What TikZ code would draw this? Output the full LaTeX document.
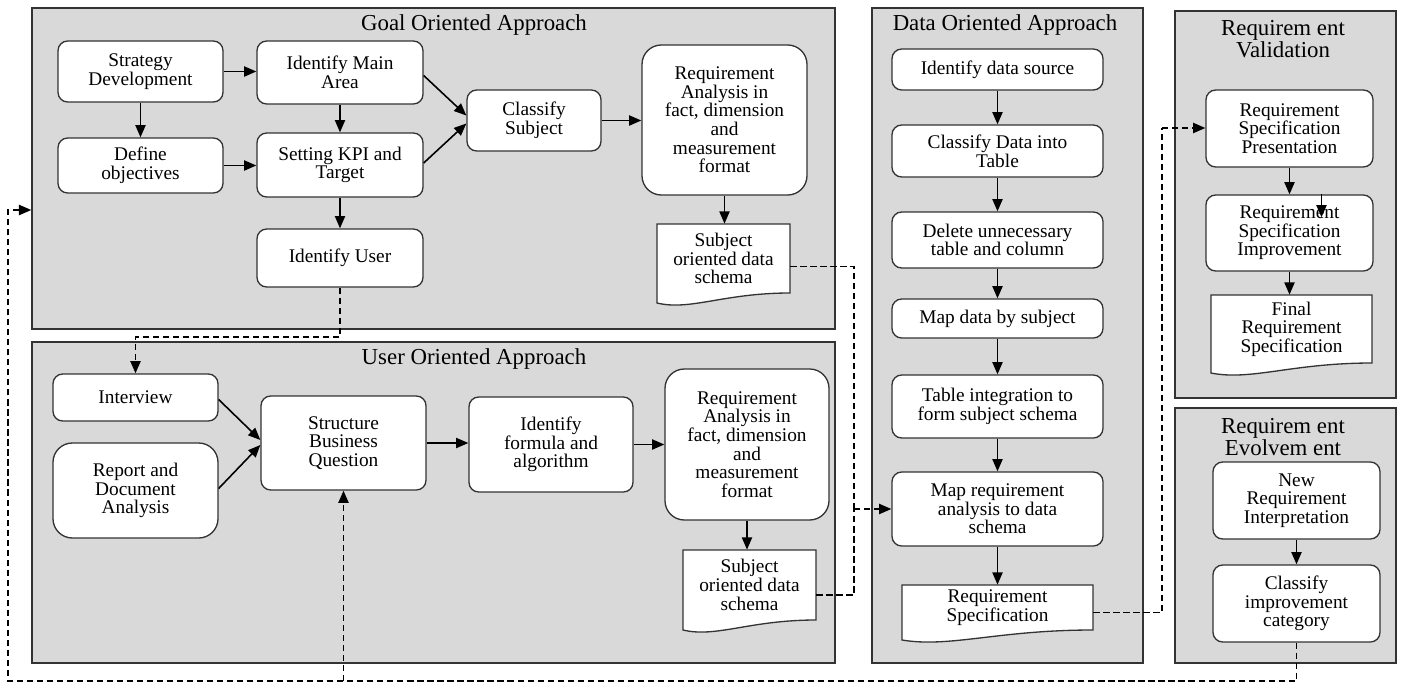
\documentclass[tikz,border=0pt]{standalone}
\usepackage{fontspec}
\setmainfont{Liberation Serif}
\usetikzlibrary{calc,arrows.meta}
\newcommand\mydocshape[4]{\draw[docline] (#1,#2) -- (#3,#2) -- (#3,#4) .. controls ({#1+0.5*(#3-#1)},#4) and ({#1+0.25*(#3-#1)},{#4+18}) .. (#1,{#4+10}) -- cycle;}
\newcommand\bx[7]{\node[#1, minimum width={(#5-#3)*0.02cm}, minimum height={(#6-#4)*0.02cm}] (#2) at ({(#3+#5)/2},{(#4+#6)/2}) {#7};}
\begin{document}
\begin{tikzpicture}[x=0.02cm,y=-0.02cm,
  panel/.style={draw=black!80, fill=black!15, line width=0.8pt, inner sep=0pt},
  box/.style={draw=black!80, fill=white, line width=0.75pt, rounded corners=5.5pt, inner sep=0pt, align=center, font=\fontsize{11}{10.6}\selectfont},
  bigbox/.style={box, rounded corners=11pt},
  doctext/.style={inner sep=0pt, align=center, font=\fontsize{11}{10.6}\selectfont},
  docline/.style={draw=black!80, fill=white, line width=0.75pt},
  ttl/.style={align=center, font=\fontsize{13}{12.5}\selectfont},
  arr/.style={-{Triangle[length=7pt,width=5.8pt]}, line width=0.9pt},
  dline/.style={dash pattern=on 3.5pt off 2.2pt, line width=1pt},
  darr/.style={dline, -{Triangle[length=7pt,width=5.8pt]}}
]
\useasboundingbox (0,0) rectangle (1401,683);

% panels
\bx{panel}{goal}{32}{8}{835}{329}{}
\bx{panel}{user}{32}{342}{835}{663}{}
\bx{panel}{data}{872}{8}{1143}{663}{}
\bx{panel}{valid}{1175}{11}{1396}{398}{}
\bx{panel}{evol}{1175}{408}{1396}{663}{}

% titles
\node[ttl] (tgoal) at (474,25) {Goal Oriented Approach};
\node[ttl] (tuser) at (474,359) {User Oriented Approach};
\node[ttl] (tdata) at (1005,25) {Data Oriented Approach};
\node[ttl] (tvalid) at (1283,39) {Requirem ent\\Validation};
\node[ttl] (tevol) at (1283,437) {Requirem ent\\Evolvem ent};

% goal oriented
\bx{box}{sd}{58}{41}{223}{102}{Strategy\\Development}
\bx{box}{ima}{257}{41}{423}{104}{Identify Main\\Area}
\bx{box}{do}{58}{138}{223}{193}{Define\\objectives}
\bx{box}{skpi}{257}{133}{423}{197}{Setting KPI and\\Target}
\bx{box}{iu}{257}{229}{423}{287}{Identify User}
\bx{box}{cs}{467}{90}{601}{151}{Classify\\Subject}
\bx{bigbox}{ra1}{642}{45}{807}{195}{Requirement\\Analysis in\\fact, dimension\\and\\measurement\\format}
\mydocshape{657}{224}{790}{293}
\bx{doctext}{doc1}{657}{224}{790}{293}{Subject\\oriented data\\schema}

% user oriented
\bx{box}{int}{53}{374}{218}{421}{Interview}
\bx{bigbox}{rda}{53}{443}{218}{538}{Report and\\Document\\Analysis}
\bx{box}{sbq}{261}{396}{426}{490}{Structure\\Business\\Question}
\bx{box}{ifa}{469}{397}{633}{492}{Identify\\formula and\\algorithm}
\bx{bigbox}{ra2}{665}{369}{829}{520}{Requirement\\Analysis in\\fact, dimension\\and\\measurement\\format}
\mydocshape{683}{550}{816}{620}
\bx{doctext}{doc2}{683}{550}{816}{620}{Subject\\oriented data\\schema}

% data oriented
\bx{box}{ids}{892}{49}{1103}{90}{Identify data source}
\bx{box}{cdt}{892}{125}{1103}{177}{Classify Data into\\Table}
\bx{box}{dut}{892}{212}{1103}{268}{Delete unnecessary\\table and column}
\bx{box}{mds}{892}{299}{1103}{338}{Map data by subject}
\bx{box}{tis}{892}{375}{1103}{438}{Table integration to\\form subject schema}
\bx{box}{mra}{892}{472}{1103}{546}{Map requirement\\analysis to data\\schema}
\mydocshape{902}{585}{1093}{630}
\bx{doctext}{rs}{902}{585}{1093}{630}{Requirement\\Specification}

% validation
\bx{box}{rsp}{1206}{90}{1373}{167}{Requirement\\Specification\\Presentation}
\bx{box}{rsi}{1206}{195}{1373}{271}{Requirement\\Specification\\Improvement}
\mydocshape{1211}{295}{1372}{363}
\bx{doctext}{frs}{1211}{295}{1372}{363}{Final\\Requirement\\Specification}

% evolvement
\bx{box}{nri}{1213}{462}{1380}{539}{New\\Requirement\\Interpretation}
\bx{box}{cic}{1213}{565}{1380}{642}{Classify\\improvement\\category}

% goal arrows
\draw[arr] (sd.east) -- (sd.east -| ima.west);
\draw[arr] (sd.south) -- (do.north);
\draw[arr] (do.east) -- (do.east -| skpi.west);
\draw[arr] (ima.south) -- (skpi.north);
\draw[arr] (skpi.south) -- (iu.north);
\draw[arr] ($(ima.east)+(0,3)$) -- ($(cs.west)+(0,-5)$);
\draw[arr] ($(skpi.east)+(0,-2)$) -- ($(cs.west)+(0,3)$);
\draw[arr] (cs.east) -- (cs.east -| ra1.west);
\draw[arr] (ra1.south) -- (ra1.south |- doc1.north);

% goal -> user
\draw[darr] (iu.south) -- ++(0,49) -| (int.north);

% user arrows
\draw[arr] ($(int.east)+(0,2)$) -- ($(sbq.west)+(0,-3)$);
\draw[arr] ($(rda.east)+(0,-2)$) -- ($(sbq.west)+(0,2)$);
\draw[arr] (sbq.east) -- (sbq.east -| ifa.west);
\draw[arr] (ifa.east) -- (ifa.east -| ra2.west);
\draw[arr] (ra2.south) -- (ra2.south |- doc2.north);

% data arrows
\draw[arr] (ids.south) -- (cdt.north);
\draw[arr] (cdt.south) -- (dut.north);
\draw[arr] (dut.south) -- (mds.north);
\draw[arr] (mds.south) -- (tis.north);
\draw[arr] (tis.south) -- (mra.north);
\draw[arr] (mra.south) -- (rs.north);

% schemas -> map requirement
\coordinate (m1) at (854,509);
\draw[dline] ($(doc1.east)+(0,8)$) -| (m1);
\draw[dline] ($(doc2.east)+(0,10)$) -| (m1);
\draw[darr] (m1) -- (m1 -| mra.west);

% requirement spec -> validation
\coordinate (m2) at (1162,128);
\draw[dline] ($(rs.east)+(0,5)$) -| (m2);
\draw[darr] (m2) -- (m2 -| rsp.west);

% validation arrows
\draw[arr] (rsp.south) -- (rsi.north);
\draw[arr] ($(rsi.north)+(32,0)$) -- ++(0,23);
\draw[arr] (rsi.south) -- (rsi.south |- frs.north);

% evolvement arrows
\draw[arr] (nri.south) -- (cic.north);

% feedback loop
\coordinate (lb) at (8,681);
\coordinate (lt) at (8,210);
\draw[darr] (cic.south) |- (lb) -- (lt) -- (lt -| goal.west);
\draw[darr] (sbq.south |- lb) -- (sbq.south);
\end{tikzpicture}
\end{document}
